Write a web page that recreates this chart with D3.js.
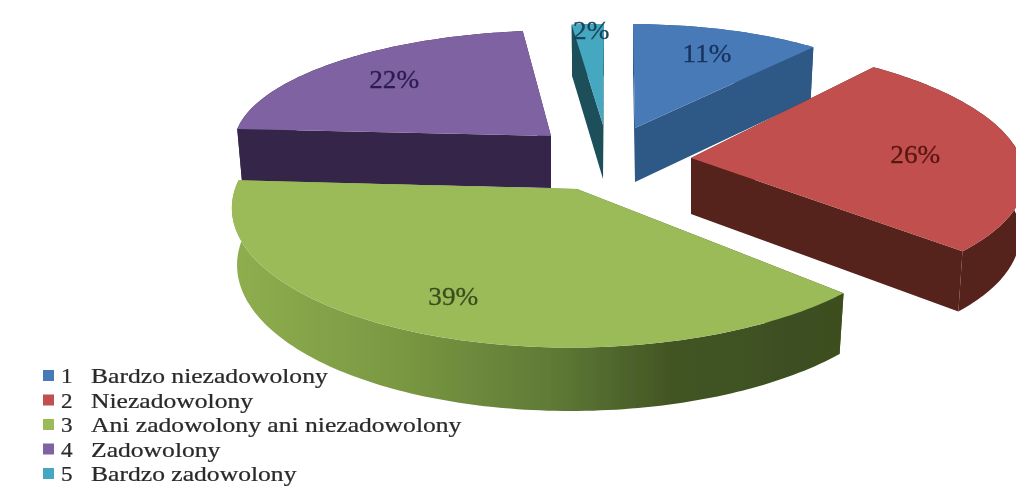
<!DOCTYPE html>
<html><head><meta charset="utf-8">
<style>html,body{margin:0;padding:0;background:#fff}svg{display:block}</style>
<script src="https://cdn.jsdelivr.net/npm/d3@7/dist/d3.min.js"></script>
</head><body><div id="c"></div>
<script>
const categories = ["Bardzo niezadowolony","Niezadowolony","Ani zadowolony ani niezadowolony","Zadowolony","Bardzo zadowolony"];
const numbers = ["1","2","3","4","5"];
const values = [11,26,39,22,2];
const labels = ["11%","26%","39%","22%","2%"];

// Rendering styles and perspective placement, one entry per slice
const topColors  = ["#4a7ab8","#c0504d","#9bbb59","#7f62a1","#45a7c0"];
const wallColors = ["#2d5886","#54201c","url(#greenWall)","#36264a","#1a4f5a"];
const textColors = ["#17335f","#5a1512","#3a4d1c","#2b1c52","#17475a"];
const views = [
  {cx:635,cy:128,rx:293,ry:109,p:.05,s:2,d:54,lr:.7,nx:6,ny:0},
  {cx:691,cy:158,rx:330,ry:127,p:.1,s:18,d:56,lr:.68,nx:2,ny:6},
  {cx:577,cy:189,rx:342,ry:140,p:.117,s:-6,d:56,lr:.8,nx:0,ny:0},
  {cx:551,cy:136,rx:316,ry:111,p:.05,s:-10,d:52,lr:.7,nx:-4,ny:0},
  {cx:603,cy:125,rx:270,ry:106,p:.05,s:-1,d:54,lr:.9,nx:2,ny:1}
];
const drawOrder = [4,0,3,1,2];
const W=1016,H=486;

const svg=d3.select("#c").append("svg").attr("width",W).attr("height",H);
const defs=svg.append("defs");
defs.append("filter").attr("id","soft").attr("x","-5%").attr("y","-5%").attr("width","110%").attr("height","110%")
  .append("feGaussianBlur").attr("stdDeviation",0.55);
const g=defs.append("linearGradient").attr("id","greenWall").attr("gradientUnits","userSpaceOnUse")
  .attr("x1",235).attr("x2",845).attr("y1",0).attr("y2",0);
[[0,"#8eae4f"],[.27,"#7a9842"],[.52,"#5f7a36"],[.72,"#415423"],[1,"#3c4e1f"]]
  .forEach(([o,c])=>g.append("stop").attr("offset",o).attr("stop-color",c));

const root=svg.append("g").attr("filter","url(#soft)");
const arcs=d3.pie().sort(null).startAngle(0).endAngle(2*Math.PI)(values);

function project(v,theta,r,lower){
  const X=Math.sin(theta)*r, Y=-Math.cos(theta)*r, w=1-v.p*Y;
  const dx=(v.rx*X+v.s*Y)/w, dy=v.ry*Y/w;
  return lower ? [v.cx+dx*.985, v.cy+dy+v.d/w] : [v.cx+dx, v.cy+dy];
}
const line=d3.line();
function arcPoints(v,a0,a1,lower){
  const n=Math.max(2,Math.ceil((a1-a0)/0.02));
  return d3.range(n+1).map(i=>project(v,a0+(a1-a0)*i/n,1,lower));
}
drawOrder.forEach(i=>{
  const a=arcs[i], v=views[i], gs=root.append("g");
  const outer=arcPoints(v,a.startAngle,a.endAngle,false);
  const outerLow=arcPoints(v,a.startAngle,a.endAngle,true);
  gs.append("path").attr("d",line(outer.concat(outerLow.slice().reverse()))+"Z").attr("fill",wallColors[i]);
  [a.startAngle,a.endAngle].forEach(t=>{
    gs.append("path").attr("d",line([project(v,t,0,false),project(v,t,1,false),project(v,t,1,true),project(v,t,0,true)])+"Z")
      .attr("fill",wallColors[i]);
  });
  gs.append("path").attr("d",line([project(v,0,0,false)].concat(outer))+"Z").attr("fill",topColors[i]);
});
drawOrder.forEach(i=>{
  const a=arcs[i], v=views[i];
  const [x,y]=project(v,(a.startAngle+a.endAngle)/2,v.lr,false);
  root.append("text").attr("transform",`translate(${x+v.nx},${y+v.ny+4}) scale(1.09,1)`)
    .attr("text-anchor","middle").attr("font-family","'Liberation Serif',serif").attr("font-size",25)
    .attr("fill",textColors[i]).attr("stroke",textColors[i]).attr("stroke-width",0.3).text(labels[i]);
});

const y=d3.scalePoint().domain(categories).range([377,475]);
const legend=root.append("g");
categories.forEach((c,i)=>{
  const yy=y(c);
  legend.append("rect").attr("x",43).attr("y",yy-7).attr("width",11).attr("height",11).attr("fill",topColors[i]);
  legend.append("text").attr("transform",`translate(61,${yy+6}) scale(1.1,1)`)
    .attr("font-family","'Liberation Serif',serif").attr("font-size",21).attr("fill","#2a2a2a").attr("stroke","#2a2a2a").attr("stroke-width",0.25).text(numbers[i]);
  legend.append("text").attr("transform",`translate(91,${yy+6}) scale(1.22,1)`)
    .attr("font-family","'Liberation Serif',serif").attr("font-size",21).attr("fill","#2a2a2a").attr("stroke","#2a2a2a").attr("stroke-width",0.25).text(c);
});
</script></body></html>
